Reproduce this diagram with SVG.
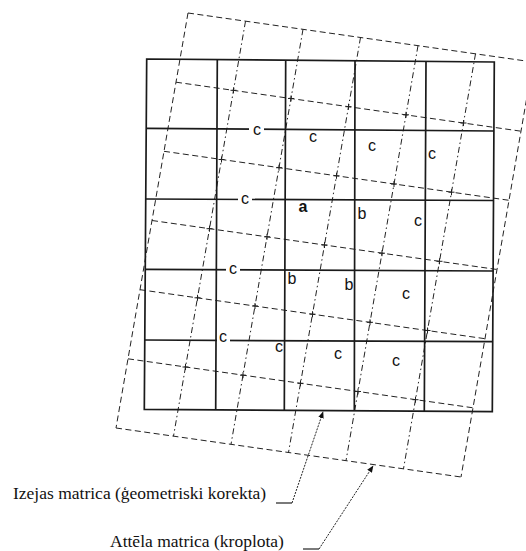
<svg xmlns="http://www.w3.org/2000/svg" width="526" height="551" viewBox="0 0 526 551">
<style>
.bg{fill:#fff}
.dash{fill:none;stroke:#222;stroke-width:1;stroke-dasharray:6,3.5}
.dashdot{fill:none;stroke:#222;stroke-width:1;stroke-dasharray:6,3,1.5,3}
.tick{fill:none;stroke:#222;stroke-width:1}
.solid{fill:none;stroke:#1a1a1a;stroke-width:1.7}
.lbl{font-family:"Liberation Sans",Arial,sans-serif;font-size:16px;fill:#111;text-anchor:middle}
.bold{font-weight:bold}
.gap{fill:#fff}
.cap{font-family:"Liberation Serif","Times New Roman",serif;font-size:17.5px;fill:#111}
.lead{fill:none;stroke:#222;stroke-width:1;stroke-dasharray:2,1.2}
.under{fill:none;stroke:#222;stroke-width:1.2}
</style>
<defs>
<marker id="arr" viewBox="0 0 10 10" refX="9" refY="5" markerWidth="7" markerHeight="7" markerUnits="userSpaceOnUse" orient="auto">
<path d="M0,1 L10,5 L0,9 Z" fill="#111"/>
</marker>
</defs>
<rect class="bg" x="0" y="0" width="526" height="551"/>

<g id="image-matrix">
<path class="dash" d="M188,13 L533,62 M116,428 L461,477 M188,13 L116,428 M533,62 L461,477"/>
<path class="dash" d="M176,82.2 L521,131.2 M164,151.3 L509,200.3 M152,220.5 L497,269.5 M140,289.7 L485,338.7 M128,358.8 L473,407.8"/>
<path class="dashdot" d="M245.5,21.2 L173.5,436.2 M303,29.3 L231,444.3 M360.5,37.5 L288.5,452.5 M418,45.7 L346,460.7 M475.5,53.8 L403.5,468.8"/>
<path class="tick" d="M230.5,90.3h6m-3,-3v6 M288,98.5h6m-3,-3v6 M345.5,106.7h6m-3,-3v6 M403,114.8h6m-3,-3v6 M460.5,123h6m-3,-3v6
M218.5,159.5h6m-3,-3v6 M276,167.7h6m-3,-3v6 M333.5,175.8h6m-3,-3v6 M391,184h6m-3,-3v6 M448.5,192.2h6m-3,-3v6
M206.5,228.7h6m-3,-3v6 M264,236.8h6m-3,-3v6 M321.5,245h6m-3,-3v6 M379,253.2h6m-3,-3v6 M436.5,261.3h6m-3,-3v6
M194.5,297.8h6m-3,-3v6 M252,306h6m-3,-3v6 M309.5,314.2h6m-3,-3v6 M367,322.3h6m-3,-3v6 M424.5,330.5h6m-3,-3v6
M182.5,367h6m-3,-3v6 M240,375.2h6m-3,-3v6 M297.5,383.3h6m-3,-3v6 M355,391.5h6m-3,-3v6 M412.5,399.7h6m-3,-3v6"/>
</g>

<g id="source-matrix">
<path class="solid" d="M146.7,59 L494.3,62 L492.3,411.7 L144.3,409.3 Z"/>
<path class="solid" d="M217.3,59.6 L215.7,409.8 M285.7,60.2 L284.3,410.4 M355,60.8 L354.3,411 M426,61.4 L424.3,411.2"/>
<path class="solid" d="M146.3,128.3 L494,131 M145.8,199 L493.6,200.5 M145.3,269.3 L493.2,271 M144.8,340 L492.8,341.7"/>
</g>

<g id="labels">
<rect class="gap" x="249" y="122" width="15" height="14"/>
<rect class="gap" x="238" y="192" width="14" height="14"/>
<rect class="gap" x="226" y="262" width="14" height="14"/>
<rect class="gap" x="217" y="331" width="13" height="14"/>
<text class="lbl" x="257" y="135">c</text>
<text class="lbl" x="313" y="142">c</text>
<text class="lbl" x="372" y="151">c</text>
<text class="lbl" x="432" y="159">c</text>
<text class="lbl" x="245" y="204">c</text>
<text class="lbl bold" x="303" y="212">a</text>
<text class="lbl" x="362" y="219">b</text>
<text class="lbl" x="418" y="226">c</text>
<text class="lbl" x="233" y="274">c</text>
<text class="lbl" x="292" y="284">b</text>
<text class="lbl" x="349" y="290">b</text>
<text class="lbl" x="406" y="299">c</text>
<text class="lbl" x="223" y="342">c</text>
<text class="lbl" x="279" y="352">c</text>
<text class="lbl" x="338" y="359">c</text>
<text class="lbl" x="396" y="366">c</text>
</g>

<g id="connectors">
<path class="under" d="M276,503 L292,503"/>
<path class="lead" d="M292,503 L323,412" marker-end="url(#arr)"/>
<path class="under" d="M303,549 L319,549"/>
<path class="lead" d="M319,549 L373,466" marker-end="url(#arr)"/>
</g>

<g id="captions">
<text class="cap" x="13" y="499">Izejas matrica (ģeometriski korekta)</text>
<text class="cap" x="110" y="547">Attēla matrica (kroplota)</text>
</g>
</svg>
